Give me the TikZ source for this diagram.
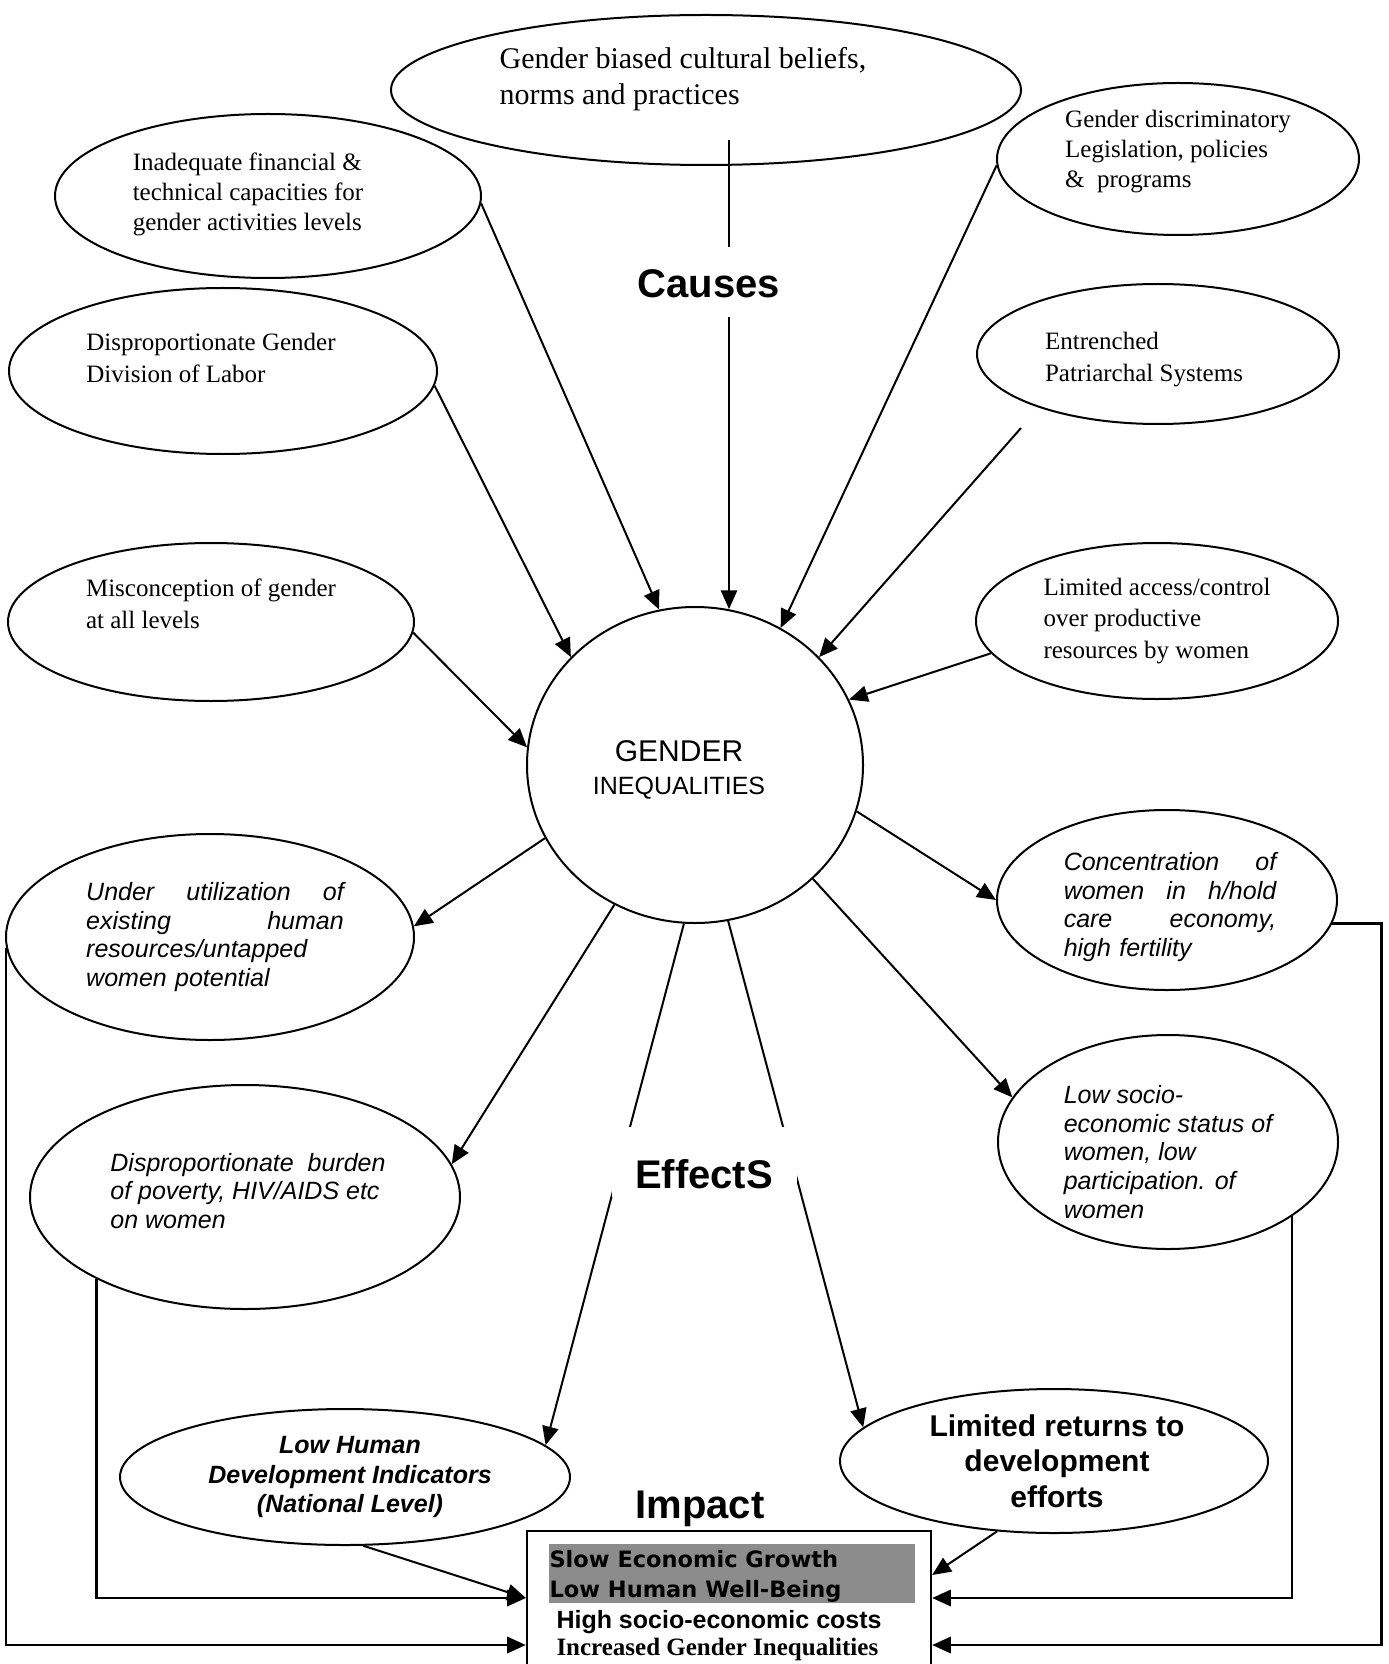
\documentclass[tikz,border=0pt]{standalone}
\usepackage{fontspec}
\setmainfont{Liberation Serif}
\setsansfont{Liberation Sans}
\newfontfamily\verdanafont{DejaVu Sans}
\usetikzlibrary{shapes.geometric,arrows.meta,calc}

\tikzset{
  oval/.style={draw, ellipse, line width=0.8pt, inner sep=0pt},
  cause/.style={font=\fontsize{10}{12}\selectfont, align=left, inner sep=0pt},
  effect/.style={font=\sffamily\itshape\fontsize{10}{11.5}\selectfont, align=left, inner sep=0pt},
  heading/.style={font=\sffamily\bfseries\fontsize{16}{19}\selectfont, inner sep=0pt},
  arr/.style={line width=0.8pt, -{Triangle[length=7.5pt,width=6.5pt]}},
  feed/.style={line width=1.1pt, -{Triangle[length=7.5pt,width=6.5pt]}},
  boxline/.style={anchor=base west, inner sep=0pt}
}

\begin{document}
\begin{tikzpicture}[x=0.4pt,y=-0.4pt]
\useasboundingbox (0,0) rectangle (1388,1664);
\fill[white] (0,0) rectangle (1388,1664);

% Causes
\node[oval, minimum width=252pt, minimum height=60pt] (cult) at (706,90) {};
\node[cause, font=\fontsize{12}{14.4}\selectfont] (cult-txt) at ($(cult)+(-23,-11)$) {Gender biased cultural beliefs,\\norms and practices};
\node[oval, minimum width=170.4pt, minimum height=65.6pt] (finc) at (268,196) {};
\node[cause] (finc-txt) at ($(finc)+(-20,-2)$) {Inadequate financial \&\\technical capacities for\\gender activities levels};
\node[oval, minimum width=144.8pt, minimum height=60.8pt] (legis) at (1178,159) {};
\node[cause] (legis-txt) at ($(legis)+(0,-7)$) {Gender discriminatory\\Legislation, policies\\\&\ \ programs};
\node[oval, minimum width=171.2pt, minimum height=66.4pt] (labor) at (223,371) {};
\node[cause, font=\fontsize{10}{12.8}\selectfont] (labor-txt) at ($(labor)+(-12,-13)$) {Disproportionate Gender\\Division of Labor};
\node[oval, minimum width=144.8pt, minimum height=56pt] (patri) at (1158,354) {};
\node[cause, font=\fontsize{10}{12.8}\selectfont] (patri-txt) at ($(patri)+(-14,6)$) {Entrenched\\Patriarchal Systems};
\node[oval, minimum width=162.4pt, minimum height=63.2pt] (miscon) at (211,622) {};
\node[cause, font=\fontsize{10}{13}\selectfont] (miscon-txt) at ($(miscon)+(0,-18)$) {Misconception of gender\\at all levels};
\node[oval, minimum width=144.8pt, minimum height=62.4pt] (access) at (1157,621) {};
\node[cause, font=\fontsize{10}{12.5}\selectfont] (access-txt) at (access) {Limited access/control\\over productive\\resources by women};

% Centre
\node[oval, minimum width=134.4pt, minimum height=126.4pt] (gi) at (695,765) {};
\node[font=\sffamily\fontsize{12}{13.2}\selectfont, align=center, inner sep=0pt] (gi-txt) at ($(gi)+(-16,5)$) {GENDER\\{\fontsize{10}{12}\selectfont INEQUALITIES}};

% Effects
\node[oval, minimum width=163.2pt, minimum height=82.4pt] (underu) at (210,937) {};
\node[effect, text width=103pt] (underu-txt) at ($(underu)+(5,0)$) {Under\hfill utilization\hfill of\\existing\hfill human\\resources/untapped\\women potential};
\node[oval, minimum width=136pt, minimum height=72pt] (concen) at (1167,900) {};
\node[effect, text width=85pt] (concen-txt) at ($(concen)+(3,7)$) {Concentration\hfill of\\women\hfill in\hfill h/hold\\care\hfill economy,\\high fertility};
\node[oval, minimum width=172pt, minimum height=89.6pt] (burden) at (245,1197) {};
\node[effect] (burden-txt) at ($(burden)+(3,-6)$) {Disproportionate\ \ burden\\of poverty, HIV/AIDS etc\\on women};
\node[oval, minimum width=136pt, minimum height=85.6pt] (status) at (1168,1142) {};
\node[effect] (status-txt) at ($(status)+(0,10)$) {Low socio-\\economic status of\\women, low\\participation. of\\women};

% Impact
\node[oval, minimum width=180pt, minimum height=54.4pt] (lowhdi) at (345,1477) {};
\node[font=\sffamily\bfseries\itshape\fontsize{10}{11.8}\selectfont, align=center, inner sep=0pt] (lowhdi-txt) at ($(lowhdi)+(5,0)$) {Low Human\\Development Indicators\\(National Level)};
\node[oval, minimum width=171.2pt, minimum height=57.6pt] (returns) at (1054,1461) {};
\node[font=\sffamily\bfseries\fontsize{12}{14.2}\selectfont, align=center, inner sep=0pt] (returns-txt) at ($(returns)+(3,0)$) {Limited returns to\\development\\efforts};

\node[draw, line width=0.9pt, anchor=north, minimum width=161.6pt, minimum height=56pt, inner sep=0pt] (box) at (729,1530) {};
\fill[black!45] (549,1544) rectangle (915,1603);
\node[boxline, font=\verdanafont\bfseries\fontsize{9}{11}\selectfont] (growth) at (549,1567) {Slow Economic Growth};
\node[boxline, font=\verdanafont\bfseries\fontsize{9}{11}\selectfont] (wellbeing) at (549,1597) {Low Human Well-Being};
\node[boxline, font=\sffamily\bfseries\fontsize{10}{12}\selectfont] (costs) at (556,1628) {High socio-economic costs};
\node[boxline, font=\bfseries\fontsize{10}{12}\selectfont] (increase) at (556,1655) {Increased Gender Inequalities};

% causes -> centre
\coordinate (vtop) at ($(cult.south)+(23,-26)$);
\coordinate (ptop) at ($(patri)+(-137,74)$);
\draw[arr] (vtop) -- (vtop |- gi.78);
\draw[arr] (finc.-2) -- (gi.103);
\draw[arr] (legis.182) -- (gi.58);
\draw[arr] (labor.-4) -- (gi.139);
\draw[arr] (ptop) -- (gi.41);
\draw[arr] (miscon.-3) -- (gi.174);
\draw[arr] (access.191) -- (gi.23);

% centre -> effects
\draw[arr] (gi.206) -- (underu.3);
\draw[arr] (gi.-16) -- (concen.180);
\draw[arr] (gi.240) -- (burden.9);
\draw[arr] (gi.-44) -- (status.164);
\draw[arr] (gi.266) -- (lowhdi.9);
\draw[arr] (gi.-78) -- (returns.170);

% effects -> impact box
\coordinate (inL1) at ($(box.north west)+(0,68)$);
\coordinate (inL2) at ($(box.north west)+(0,115)$);
\coordinate (inR0) at ($(box.north east)+(0,45)$);
\coordinate (inR1) at ($(box.north east)+(0,68)$);
\coordinate (inR2) at ($(box.north east)+(0,115)$);
\draw[feed] (underu.183) |- (inL2);
\draw[feed] (burden.209) |- (inL1);
\draw[arr] (lowhdi.-75) -- (inL1);
\draw[arr] (returns.231) -- (inR0);
\draw[feed] (status.-31) |- (inR1);
\draw[feed] (concen.-8) -- ++(49,0) |- (inR2);

% labels
\node[heading, fill=white, text height=20.4pt, text depth=7.6pt, anchor=base] (causes) at (709,298) {Causes};
\node[heading, fill=white, text height=24.4pt, text depth=3.6pt, minimum width=74pt, anchor=base] (effects) at (704,1188) {EffectS};
\node[heading, anchor=base] (impact) at (700,1518) {Impact};
\end{tikzpicture}
\end{document}
